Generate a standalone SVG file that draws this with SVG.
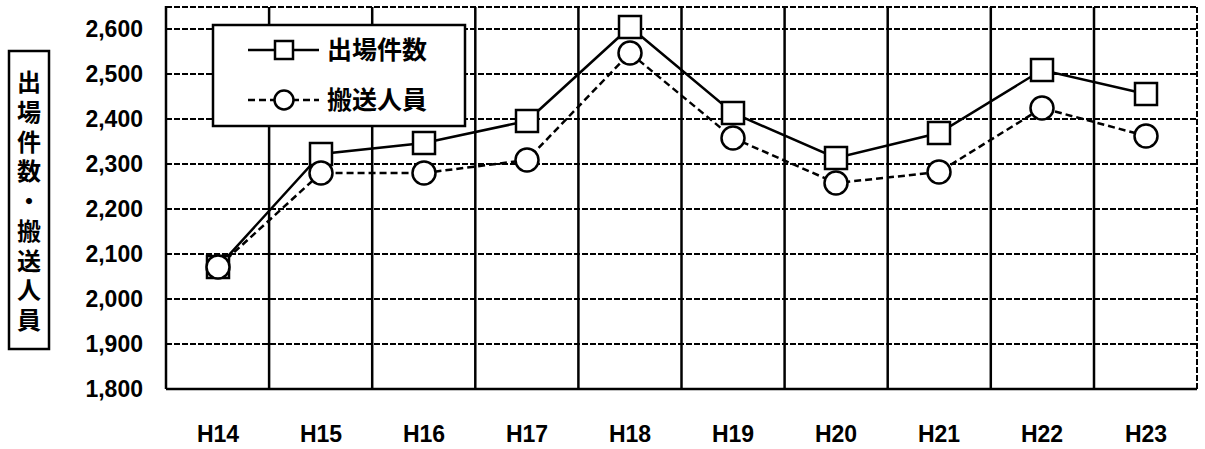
<svg xmlns="http://www.w3.org/2000/svg" width="1205" height="449" viewBox="0 0 1205 449">
<style>
.bg{fill:#fff}
.grid{stroke:#000;stroke-width:2;stroke-dasharray:6 2;fill:none}
.vline{stroke:#000;stroke-width:2.5;fill:none}
.axis{stroke:#000;stroke-width:2.5;fill:none}
.s1{stroke:#000;stroke-width:2.5;fill:none}
.s2{stroke:#000;stroke-width:2.5;fill:none;stroke-dasharray:7 4}
.sq{fill:#fff;stroke:#000;stroke-width:2.5}
.ci{fill:#fff;stroke:#000;stroke-width:2.5}
.tick{font-family:"Liberation Sans",Arial,sans-serif;font-weight:bold;font-size:23px;fill:#000}
.jp{font-family:"Noto Sans CJK JP","Noto Sans CJK SC",sans-serif;font-weight:bold;font-size:24px;fill:#000}
</style>
<rect class="bg" x="0" y="0" width="1205" height="449"/>
<g id="plot-area">
<rect x="166" y="7" width="1031" height="382" fill="#fff" stroke="none"/>
<line class="grid" x1="166" y1="7" x2="1197" y2="7" stroke-width="1.5"/>
<line class="grid" x1="1197" y1="7" x2="1197" y2="389" stroke-width="1.5"/>
<g id="hgrid">
<line class="grid" x1="166" y1="29" x2="1197" y2="29"/>
<line class="grid" x1="166" y1="74" x2="1197" y2="74"/>
<line class="grid" x1="166" y1="119" x2="1197" y2="119"/>
<line class="grid" x1="166" y1="164" x2="1197" y2="164"/>
<line class="grid" x1="166" y1="209" x2="1197" y2="209"/>
<line class="grid" x1="166" y1="254" x2="1197" y2="254"/>
<line class="grid" x1="166" y1="299" x2="1197" y2="299"/>
<line class="grid" x1="166" y1="344" x2="1197" y2="344"/>
</g>
<g id="vgrid">
<line class="vline" x1="269.1" y1="7" x2="269.1" y2="389"/>
<line class="vline" x1="372.2" y1="7" x2="372.2" y2="389"/>
<line class="vline" x1="475.3" y1="7" x2="475.3" y2="389"/>
<line class="vline" x1="578.4" y1="7" x2="578.4" y2="389"/>
<line class="vline" x1="681.5" y1="7" x2="681.5" y2="389"/>
<line class="vline" x1="784.6" y1="7" x2="784.6" y2="389"/>
<line class="vline" x1="887.7" y1="7" x2="887.7" y2="389"/>
<line class="vline" x1="990.8" y1="7" x2="990.8" y2="389"/>
<line class="vline" x1="1094" y1="7" x2="1094" y2="389"/>
</g>
<line class="axis" x1="166" y1="6" x2="166" y2="389"/>
<line class="axis" x1="166" y1="389" x2="1197" y2="389"/>
</g>
<g id="y-ticks">
<text class="tick" x="143" y="37" text-anchor="end">2,600</text>
<text class="tick" x="143" y="82" text-anchor="end">2,500</text>
<text class="tick" x="143" y="127" text-anchor="end">2,400</text>
<text class="tick" x="143" y="172" text-anchor="end">2,300</text>
<text class="tick" x="143" y="217" text-anchor="end">2,200</text>
<text class="tick" x="143" y="262" text-anchor="end">2,100</text>
<text class="tick" x="143" y="307" text-anchor="end">2,000</text>
<text class="tick" x="143" y="352" text-anchor="end">1,900</text>
<text class="tick" x="143" y="397" text-anchor="end">1,800</text>
</g>
<g id="x-ticks">
<text class="tick" x="218" y="442" text-anchor="middle">H14</text>
<text class="tick" x="321" y="442" text-anchor="middle">H15</text>
<text class="tick" x="424" y="442" text-anchor="middle">H16</text>
<text class="tick" x="527" y="442" text-anchor="middle">H17</text>
<text class="tick" x="630" y="442" text-anchor="middle">H18</text>
<text class="tick" x="733" y="442" text-anchor="middle">H19</text>
<text class="tick" x="836" y="442" text-anchor="middle">H20</text>
<text class="tick" x="939" y="442" text-anchor="middle">H21</text>
<text class="tick" x="1042" y="442" text-anchor="middle">H22</text>
<text class="tick" x="1146" y="442" text-anchor="middle">H23</text>
</g>
<g id="y-axis-title">
<rect x="9" y="51" width="40" height="298" fill="#fff" stroke="#000" stroke-width="2.5"/>
<text class="jp" x="29" y="70" writing-mode="vertical-rl" letter-spacing="5.75">出場件数・搬送人員</text>
</g>
<g id="connectors">
<polyline id="line-shutsujo" class="s1" points="218,267 321,154 424,143 527,121 630,27 733,113 836,158 939,133 1042,70 1146,94"/>
<polyline id="line-hanso" class="s2" points="218,267 321,173 424,173 527,160 630,53 733,138 836,183 939,172 1042,108 1146,136"/>
</g>
<g id="series-shutsujo-markers">
<rect class="sq" x="207" y="256" width="22" height="22"/>
<rect class="sq" x="310" y="143" width="22" height="22"/>
<rect class="sq" x="413" y="132" width="22" height="22"/>
<rect class="sq" x="516" y="110" width="22" height="22"/>
<rect class="sq" x="619" y="16" width="22" height="22"/>
<rect class="sq" x="722" y="102" width="22" height="22"/>
<rect class="sq" x="825" y="147" width="22" height="22"/>
<rect class="sq" x="928" y="122" width="22" height="22"/>
<rect class="sq" x="1031" y="59" width="22" height="22"/>
<rect class="sq" x="1135" y="83" width="22" height="22"/>
</g>
<g id="series-hanso-markers">
<circle class="ci" cx="218" cy="267" r="11.5"/>
<circle class="ci" cx="321" cy="173" r="11.5"/>
<circle class="ci" cx="424" cy="173" r="11.5"/>
<circle class="ci" cx="527" cy="160" r="11.5"/>
<circle class="ci" cx="630" cy="53" r="11.5"/>
<circle class="ci" cx="733" cy="138" r="11.5"/>
<circle class="ci" cx="836" cy="183" r="11.5"/>
<circle class="ci" cx="939" cy="172" r="11.5"/>
<circle class="ci" cx="1042" cy="108" r="11.5"/>
<circle class="ci" cx="1146" cy="136" r="11.5"/>
</g>
<g id="legend">
<rect x="213" y="25" width="252" height="101" fill="#fff" stroke="#000" stroke-width="2.5"/>
<line class="s1" x1="248" y1="50" x2="319" y2="50"/>
<rect class="sq" x="275" y="41" width="18" height="18"/>
<text class="jp" x="327" y="59" style="font-size:25px">出場件数</text>
<line class="s2" x1="248" y1="100" x2="319" y2="100" stroke-dasharray="5 3"/>
<circle class="ci" cx="284" cy="100" r="9.5"/>
<text class="jp" x="327" y="109" style="font-size:25px">搬送人員</text>
</g>
</svg>
